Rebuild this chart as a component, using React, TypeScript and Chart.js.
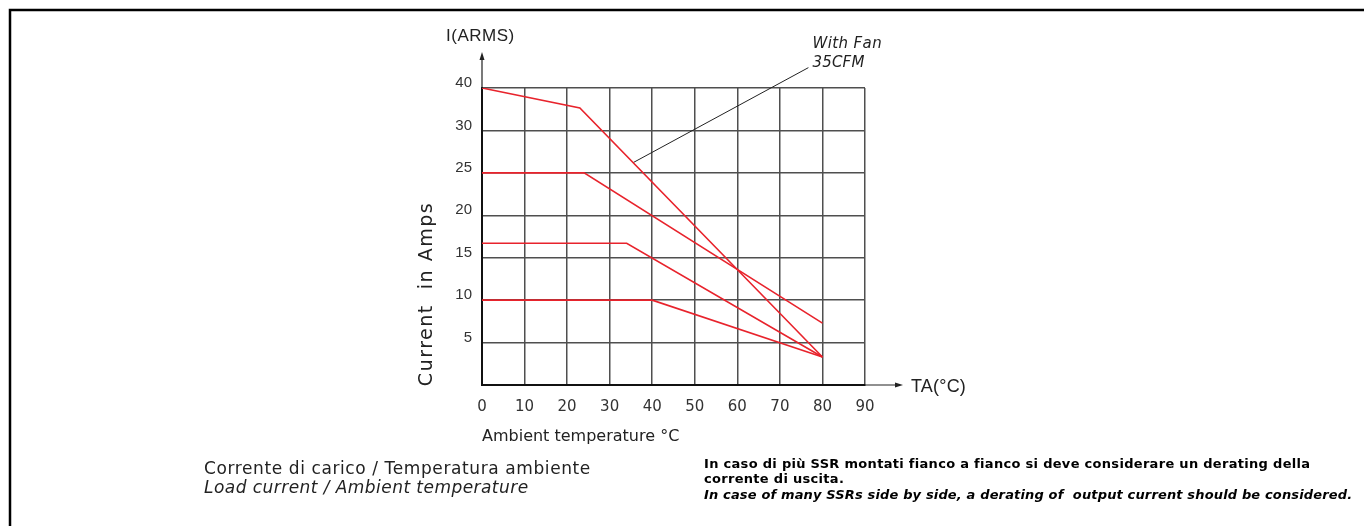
import React, { useEffect, useRef } from "react";
import { Chart, registerables } from "chart.js";

Chart.register(...registerables);

// ---- data ----
const fanTemps = [0, 23, 80];
const fanAmps = [40, 35.3, 3.3];
const curve25Temps = [0, 24, 80];
const curve25Amps = [25, 25, 7.3];
const curve17Temps = [0, 34, 80];
const curve17Amps = [16.7, 16.7, 3.3];
const curve10Temps = [0, 40, 80];
const curve10Amps = [10, 10, 3.3];
const leaderTemps = [35.5, 76.7];
const leaderAmps = [26.2, 44.8];

const xTicks = [0, 10, 20, 30, 40, 50, 60, 70, 80, 90];
const yTickLabels = ["", "5", "10", "15", "20", "25", "30", "40"];

// non-linear axis: 0..30 A in steps of 5, then 30..40 in one step
const toUnit = (a: number) => (a <= 30 ? a / 5 : 6 + (a - 30) / 10);
const pts = (xs: number[], ys: number[]) => xs.map((x, i) => ({ x, y: toUnit(ys[i]) }));

const RED = "#e8232c";
const GOTHIC = "'DejaVu Sans', sans-serif";
const ARIAL = "'Liberation Sans', Arial, sans-serif";

function text(ctx: any, s: string, x: number, y: number, font: string, spacing = 0) {
  ctx.font = font;
  ctx.letterSpacing = `${spacing}px`;
  ctx.fillText(s, x, y);
  ctx.letterSpacing = "0px";
}

const decor = {
  id: "decor",
  afterDraw(chart: any) {
    const ctx = chart.ctx as CanvasRenderingContext2D;
    const { left, right, top, bottom } = chart.chartArea;
    ctx.save();
    // frame
    ctx.strokeStyle = "#000";
    ctx.lineWidth = 2.5;
    ctx.beginPath();
    ctx.moveTo(10, 540);
    ctx.lineTo(10, 10);
    ctx.lineTo(1380, 10);
    ctx.stroke();

    // axes arrows
    ctx.lineWidth = 1.2;
    ctx.strokeStyle = "#222";
    ctx.fillStyle = "#222";
    ctx.beginPath();
    ctx.moveTo(left, top);
    ctx.lineTo(left, 57);
    ctx.moveTo(right, bottom);
    ctx.lineTo(897, bottom);
    ctx.stroke();
    ctx.beginPath();
    ctx.moveTo(left, 52);
    ctx.lineTo(left - 2.5, 60);
    ctx.lineTo(left + 2.5, 60);
    ctx.closePath();
    ctx.fill();
    ctx.beginPath();
    ctx.moveTo(903, bottom);
    ctx.lineTo(895, bottom - 2.5);
    ctx.lineTo(895, bottom + 2.5);
    ctx.closePath();
    ctx.fill();

    ctx.fillStyle = "#222";
    ctx.textBaseline = "middle";
    ctx.textAlign = "left";
    text(ctx, "I(ARMS)", 446, 36, `17px ${ARIAL}`, 0.5);
    text(ctx, "TA(°C)", 911, bottom + 2, `18px ${ARIAL}`, 0.2);

    // leader annotation text
    const xs = chart.scales.x;
    const ys = chart.scales.y;
    const lx = xs.getPixelForValue(leaderTemps[1]);
    const ly = ys.getPixelForValue(toUnit(leaderAmps[1]));
    text(ctx, "With Fan", lx + 4, ly - 24, `italic 15px ${GOTHIC}`, 0.4);
    text(ctx, "35CFM", lx + 4, ly - 5, `italic 15px ${GOTHIC}`, 0.2);

    // y title
    ctx.save();
    ctx.translate(427, 294);
    ctx.rotate(-Math.PI / 2);
    ctx.textAlign = "center";
    text(ctx, "Current  in Amps", 0, 0, `19px ${GOTHIC}`, 1.5);
    ctx.restore();

    // x title
    ctx.textAlign = "left";
    text(ctx, "Ambient temperature °C", left, 437, `16px ${GOTHIC}`, 0);

    // captions
    text(ctx, "Corrente di carico / Temperatura ambiente", 204, 470, `17px ${GOTHIC}`, 0.6);
    text(ctx, "Load current / Ambient temperature", 204, 489, `italic 17px ${GOTHIC}`, 0.45);

    ctx.fillStyle = "#000";
    text(ctx, "In caso di più SSR montati fianco a fianco si deve considerare un derating della", 704, 465, `bold 13px ${GOTHIC}`, 0.3);
    text(ctx, "corrente di uscita.", 704, 480, `bold 13px ${GOTHIC}`, 0.3);
    text(ctx, "In case of many SSRs side by side, a derating of  output current should be considered.", 704, 496, `italic bold 13px ${GOTHIC}`, 0.15);
    ctx.restore();
  },
};

export default function App() {
  const ref = useRef<HTMLCanvasElement | null>(null);
  useEffect(() => {
    if (!ref.current) return;
    const red = (data: any[]) => ({
      data,
      borderColor: RED,
      borderWidth: 1.6,
      pointRadius: 0,
      tension: 0,
      fill: false,
    });
    const chart = new Chart(ref.current, {
      type: "line",
      data: {
        datasets: [
          red(pts(fanTemps, fanAmps)),
          red(pts(curve25Temps, curve25Amps)),
          red(pts(curve17Temps, curve17Amps)),
          red(pts(curve10Temps, curve10Amps)),
          {
            data: pts(leaderTemps, leaderAmps),
            borderColor: "#222",
            borderWidth: 1,
            pointRadius: 0,
            fill: false,
            clip: false as any,
          },
        ],
      },
      options: {
        responsive: false,
        animation: false,
        events: [],
        layout: { padding: { left: 400, right: 499, top: 88, bottom: 0 } },
        plugins: { legend: { display: false }, tooltip: { enabled: false } },
        scales: {
          x: {
            type: "linear",
            min: 0,
            max: 90,
            afterBuildTicks: (s: any) => {
              s.ticks = xTicks.map((v) => ({ value: v }));
            },
            afterFit: (s: any) => {
              s.height = 141;
            },
            grid: { color: "#4f4f4f", lineWidth: 1.5, drawTicks: false },
            border: { color: "#111", width: 2 },
            ticks: {
              padding: 13,
              color: "#333",
              font: { family: "DejaVu Sans", size: 15 },
              maxRotation: 0,
              autoSkip: false,
            },
          },
          y: {
            type: "linear",
            min: 0,
            max: 7,
            afterFit: (s: any) => {
              s.width = 82;
            },
            grid: { color: "#4f4f4f", lineWidth: 1.5, drawTicks: false },
            border: { color: "#111", width: 2 },
            ticks: {
              stepSize: 1,
              padding: 10,
              labelOffset: -5,
              color: "#333",
              font: { family: "Liberation Sans", size: 15 },
              callback: (v: any) => yTickLabels[v] ?? "",
            },
          },
        },
      },
      plugins: [decor],
    });
    return () => chart.destroy();
  }, []);
  return (
    <div style={{ position: "fixed", left: 0, top: 0, width: 1364, height: 526, background: "#fff" }}>
      <canvas ref={ref} width={1364} height={526} style={{ display: "block" }} />
    </div>
  );
}
